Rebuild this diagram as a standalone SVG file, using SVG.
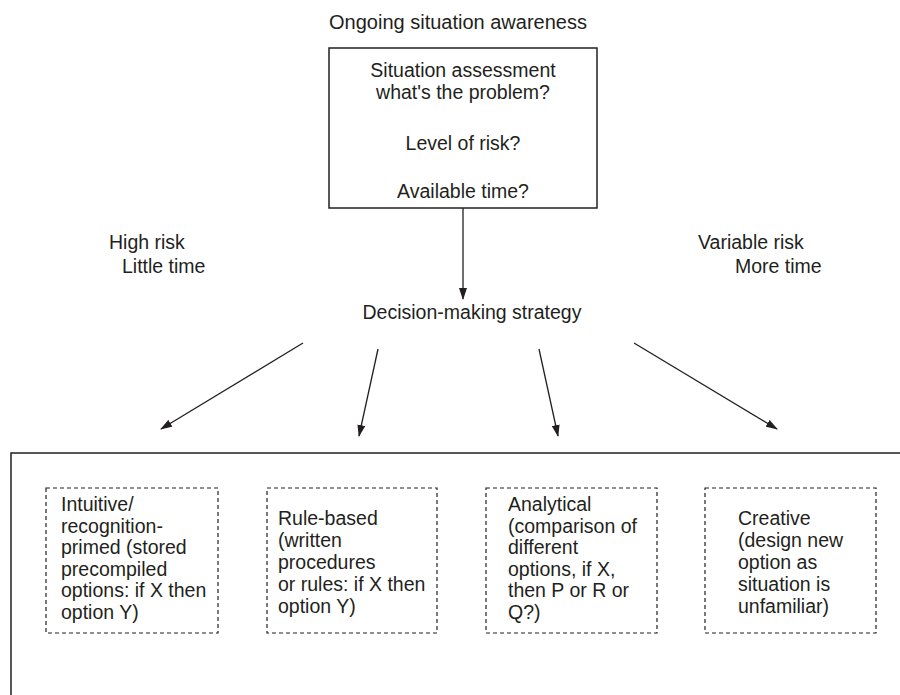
<svg xmlns="http://www.w3.org/2000/svg" width="900" height="695" viewBox="0 0 900 695">
<style>
text{font-family:"Liberation Sans",Arial,sans-serif;font-size:19.5px;fill:#231f20}
.solid{fill:none;stroke:#231f20;stroke-width:1.5}
.dash{fill:none;stroke:#231f20;stroke-width:1.2;stroke-dasharray:4 3}
.conn line{stroke:#231f20;stroke-width:1.3}
.mid{text-anchor:middle}
</style>
<defs>
<marker id="ah" viewBox="0 0 12 8" refX="11" refY="4" markerWidth="12" markerHeight="8" markerUnits="userSpaceOnUse" orient="auto">
<path d="M0,0 L12,4 L0,8 Z" fill="#231f20"/>
</marker>
</defs>
<rect width="900" height="695" fill="#fff"/>
<g id="title"><text class="mid" x="458" y="29" style="font-size:20px">Ongoing situation awareness</text></g>
<g id="assessment">
<rect class="solid" x="329" y="48" width="268" height="160"/>
<text class="mid" x="463" y="77">Situation assessment</text>
<text class="mid" x="463" y="99">what's the problem?</text>
<text class="mid" x="463" y="150">Level of risk?</text>
<text class="mid" x="463" y="198">Available time?</text>
</g>
<g id="label-high">
<text x="109" y="249">High risk</text>
<text x="122" y="273">Little time</text>
</g>
<g id="label-variable">
<text x="698" y="249">Variable risk</text>
<text x="735" y="273">More time</text>
</g>
<g id="strategy"><text class="mid" x="472" y="319">Decision-making strategy</text></g>
<g class="conn" id="connectors">
<line x1="463" y1="208" x2="463" y2="299" marker-end="url(#ah)"/>
<line x1="303" y1="343" x2="161" y2="429" marker-end="url(#ah)"/>
<line x1="378" y1="349" x2="359" y2="436" marker-end="url(#ah)"/>
<line x1="539" y1="349" x2="558" y2="436" marker-end="url(#ah)"/>
<line x1="634" y1="343" x2="777" y2="429" marker-end="url(#ah)"/>
</g>
<g id="container"><path class="solid" d="M11,695 L11,453 L900,453"/></g>
<g id="intuitive">
<rect class="dash" x="46" y="488" width="172" height="145"/>
<text x="61" y="511">Intuitive/</text>
<text x="61" y="532.5">recognition-</text>
<text x="61" y="554">primed (stored</text>
<text x="61" y="575.5">precompiled</text>
<text x="61" y="597">options: if X then</text>
<text x="61" y="618.5">option Y)</text>
</g>
<g id="rule-based">
<rect class="dash" x="267" y="488" width="170" height="145"/>
<text x="278" y="525">Rule-based</text>
<text x="278" y="547">(written</text>
<text x="278" y="569">procedures</text>
<text x="278" y="591">or rules: if X then</text>
<text x="278" y="613">option Y)</text>
</g>
<g id="analytical">
<rect class="dash" x="486" y="488" width="171" height="145"/>
<text x="508" y="511">Analytical</text>
<text x="508" y="532.5">(comparison of</text>
<text x="508" y="554">different</text>
<text x="508" y="575.5">options, if X,</text>
<text x="508" y="597">then P or R or</text>
<text x="508" y="618.5">Q?)</text>
</g>
<g id="creative">
<rect class="dash" x="705" y="488" width="171" height="145"/>
<text x="738" y="525">Creative</text>
<text x="738" y="547">(design new</text>
<text x="738" y="569">option as</text>
<text x="738" y="591">situation is</text>
<text x="738" y="613">unfamiliar)</text>
</g>
</svg>
